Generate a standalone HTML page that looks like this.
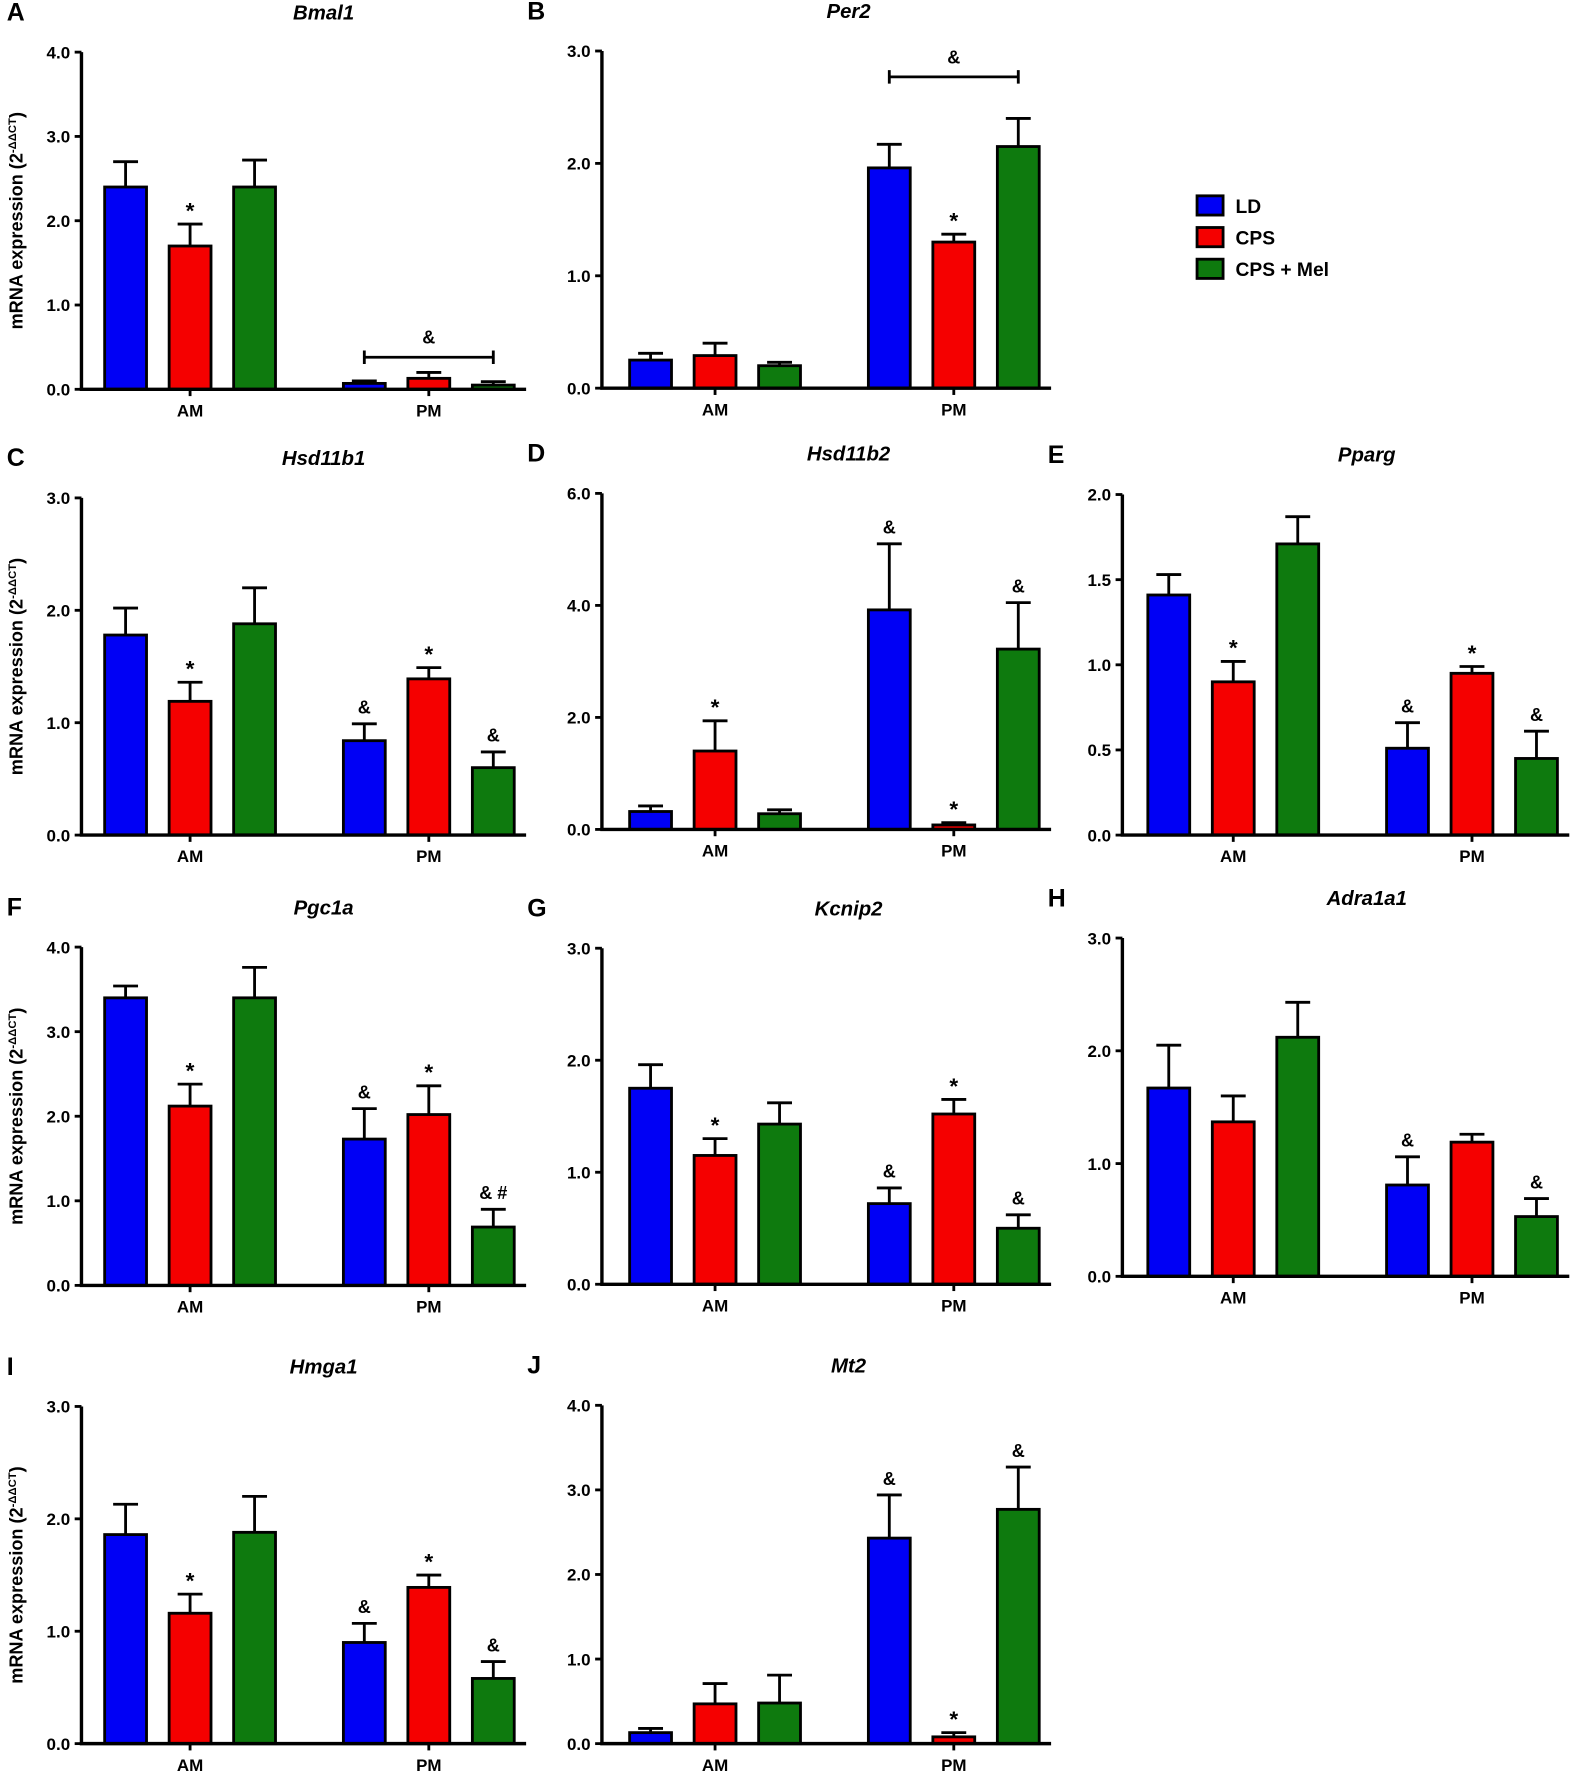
<!DOCTYPE html>
<html><head><meta charset="utf-8">
<style>
html,body{margin:0;padding:0;background:#fff;}
svg{display:block;}
text{font-family:"Liberation Sans",Arial,sans-serif;font-weight:bold;fill:#000;}
</style></head>
<body>
<svg id="fig" width="1584" height="1772" viewBox="0 0 1400 1566" xmlns="http://www.w3.org/2000/svg"></svg>
<script>
// order per panel: AM-LD, AM-CPS, AM-Mel, PM-LD, PM-CPS, PM-Mel
const groups = ["AM","PM"];
const series = ["LD","CPS","CPS + Mel"];
const colors = ["#0000f5","#f50000","#0e7a0e"];

const meansA = [2.40,1.70,2.40,0.07,0.13,0.05];
const errTopA = [2.70,1.96,2.72,0.10,0.20,0.09];
const ticksA = [0,1,2,3,4];
const marksA = ["","*","","","",""];

const meansB = [0.25,0.29,0.20,1.96,1.30,2.15];
const errTopB = [0.31,0.40,0.23,2.17,1.37,2.40];
const ticksB = [0,1,2,3];
const marksB = ["","","","","*",""];

const meansC = [1.78,1.19,1.88,0.84,1.39,0.60];
const errTopC = [2.02,1.36,2.20,0.99,1.49,0.74];
const ticksC = [0,1,2,3];
const marksC = ["","*","","&","*","&"];

const meansD = [0.32,1.40,0.28,3.92,0.08,3.22];
const errTopD = [0.42,1.94,0.35,5.10,0.12,4.05];
const ticksD = [0,2,4,6];
const marksD = ["","*","","&","*","&"];

const meansE = [1.41,0.90,1.71,0.51,0.95,0.45];
const errTopE = [1.53,1.02,1.87,0.66,0.99,0.61];
const ticksE = [0,0.5,1,1.5,2];
const marksE = ["","*","","&","*","&"];

const meansF = [3.40,2.12,3.40,1.73,2.02,0.69];
const errTopF = [3.54,2.38,3.76,2.09,2.36,0.90];
const ticksF = [0,1,2,3,4];
const marksF = ["","*","","&","*","& #"];

const meansG = [1.75,1.15,1.43,0.72,1.52,0.50];
const errTopG = [1.96,1.30,1.62,0.86,1.65,0.62];
const ticksG = [0,1,2,3];
const marksG = ["","*","","&","*","&"];

const meansH = [1.67,1.37,2.12,0.81,1.19,0.53];
const errTopH = [2.05,1.60,2.43,1.06,1.26,0.69];
const ticksH = [0,1,2,3];
const marksH = ["","","","&","","&"];

const meansI = [1.86,1.16,1.88,0.90,1.39,0.58];
const errTopI = [2.13,1.33,2.20,1.07,1.50,0.73];
const ticksI = [0,1,2,3];
const marksI = ["","*","","&","*","&"];

const meansJ = [0.13,0.47,0.48,2.43,0.08,2.77];
const errTopJ = [0.18,0.71,0.81,2.94,0.13,3.27];
const ticksJ = [0,1,2,3,4];
const marksJ = ["","","","&","*","&"];

const NS = "http://www.w3.org/2000/svg";
const svg = document.getElementById("fig");
function mk(tag, attrs, parent){
  const e = document.createElementNS(NS, tag);
  for (const k in attrs) e.setAttribute(k, attrs[k]);
  (parent||svg).appendChild(e);
  return e;
}
function txt(str, x, y, size, anchor, parent, extra){
  const t = mk("text", {x:x, y:y, "font-size":size, "text-anchor":anchor||"middle"}, parent);
  if (extra) for (const k in extra) t.setAttribute(k, extra[k]);
  t.textContent = str;
  return t;
}

const panels = [
  {id:"A",gene:"Bmal1",ax:72,dx:0,y0:344,yt:46,m:meansA,e:errTopA,t:ticksA,k:marksA,bracket:{y:0.38}},
  {id:"B",gene:"Per2",ax:532,dx:4,y0:343,yt:45,m:meansB,e:errTopB,t:ticksB,k:marksB,bracket:{y:2.77}},
  {id:"C",gene:"Hsd11b1",ax:72,dx:0,y0:738,yt:440,m:meansC,e:errTopC,t:ticksC,k:marksC},
  {id:"D",gene:"Hsd11b2",ax:532,dx:4,y0:733,yt:436,m:meansD,e:errTopD,t:ticksD,k:marksD},
  {id:"E",gene:"Pparg",ax:992,dx:2,y0:738,yt:437,m:meansE,e:errTopE,t:ticksE,k:marksE},
  {id:"F",gene:"Pgc1a",ax:72,dx:0,y0:1136,yt:837,m:meansF,e:errTopF,t:ticksF,k:marksF},
  {id:"G",gene:"Kcnip2",ax:532,dx:4,y0:1135,yt:838,m:meansG,e:errTopG,t:ticksG,k:marksG},
  {id:"H",gene:"Adra1a1",ax:992,dx:2,y0:1128,yt:829,m:meansH,e:errTopH,t:ticksH,k:marksH},
  {id:"I",gene:"Hmga1",ax:72,dx:0,y0:1541,yt:1243,m:meansI,e:errTopI,t:ticksI,k:marksI},
  {id:"J",gene:"Mt2",ax:532,dx:4,y0:1541,yt:1242,m:meansJ,e:errTopJ,t:ticksJ,k:marksJ}
];

const barW = 37, barGap = 57, groupOffset = [96, 307];
panels.forEach(p => {
  const g = mk("g", {});
  
  
  const ymax = p.t[p.t.length-1];
  const ys = v => p.y0 - (v / ymax) * (p.y0 - p.yt);
  const gx = gi => p.ax + p.dx + groupOffset[gi];
  const xs = i => gx(Math.floor(i/3)) + ((i%3) - 1) * barGap;

  const letter = txt(p.id, p.ax - 66, p.yt - 28, 22, "start", g);
  
  
  const title = txt(p.gene, p.ax + p.dx + 214, p.yt - 29, 18, "middle", g, {"font-style":"italic"});
  
  

  p.m.forEach((v, i) => {
    const cx = xs(i);
    const r = mk("rect", {x:cx-barW/2, y:ys(v), width:barW, height:p.y0-ys(v), fill:colors[i%3], stroke:"#000", "stroke-width":2.5}, g);
    
    
    const eb = mk("path", {d:`M${cx} ${ys(v)} V${ys(p.e[i])} M${cx-11} ${ys(p.e[i])} H${cx+11}`, stroke:"#000", "stroke-width":2.5, fill:"none"}, g);
    
    
    if (p.k[i]) {
      const a = txt(p.k[i], cx, ys(p.e[i]) - (p.k[i]==="*" ? 5 : 9), p.k[i]==="*" ? 20 : 16, "middle", g);
      
      
    }
  });

  if (p.bracket) {
    const x1 = xs(3), x2 = xs(5), by = ys(p.bracket.y);
    const br = mk("path", {d:`M${x1} ${by-6} V${by+6} M${x1} ${by} H${x2} M${x2} ${by-6} V${by+6}`, stroke:"#000", "stroke-width":2.5, fill:"none"}, g);
    
    
    const bt = txt("&", (x1+x2)/2, by - 12, 16, "middle", g);
    
    
  }

  const yAxis = mk("path", {d:`M${p.ax} ${p.yt} V${p.y0}`, stroke:"#000", "stroke-width":3, fill:"none"}, g);
  
  
  const xAxis = mk("path", {d:`M${p.ax-1.5} ${p.y0} H${p.ax+p.dx+393}`, stroke:"#000", "stroke-width":3, fill:"none"}, g);
  
  
  p.t.forEach(tv => {
    const tk = mk("path", {d:`M${p.ax-6} ${ys(tv)} H${p.ax}`, stroke:"#000", "stroke-width":2.5}, g);
    
    
    const tl = txt(tv.toFixed(1), p.ax - 10, ys(tv) + 5.5, 15, "end", g);
    
    
  });
  groups.forEach((gn, gi) => {
    const cx = gx(gi);
    const tk = mk("path", {d:`M${cx} ${p.y0} V${p.y0+6}`, stroke:"#000", "stroke-width":2.5}, g);
    
    
    const xl = txt(gn, cx, p.y0 + 24, 15, "middle", g);
    
    
  });

  if (p.ax === 72) {
    const cy = (p.y0 + p.yt) / 2;
    const yl = mk("text", {x:20, y:cy, "font-size":16, "text-anchor":"middle", transform:`rotate(-90 20 ${cy})`}, g);
    
    
    yl.textContent = "mRNA expression (2";
    const sup = document.createElementNS(NS, "tspan");
    sup.setAttribute("font-size", 10);
    sup.setAttribute("dy", -6);
    sup.textContent = "-ΔΔCT";
    yl.appendChild(sup);
    const cl = document.createElementNS(NS, "tspan");
    cl.setAttribute("dy", 6);
    cl.textContent = ")";
    yl.appendChild(cl);
  }
});

const lg = mk("g", {});


series.forEach((s, i) => {
  const y = 173 + i * 28;
  const sw = mk("rect", {x:1058, y:y, width:23, height:17, fill:colors[i], stroke:"#000", "stroke-width":2.5}, lg);
  
  
  const lt = txt(s, 1092, y + 15, 17, "start", lg);
  
  
});
</script>
</body></html>
